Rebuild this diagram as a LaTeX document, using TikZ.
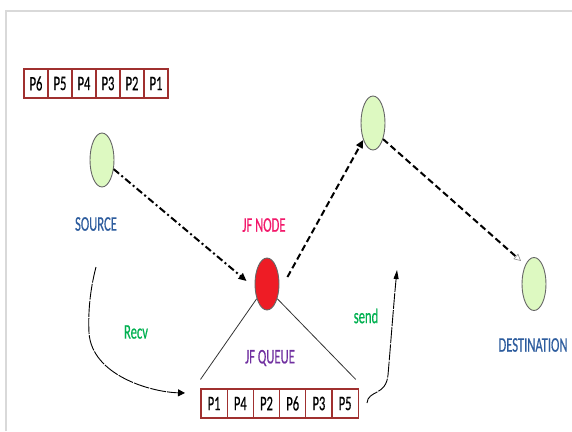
\documentclass[tikz,border=0pt]{standalone}
\usepackage{fontspec}
\setmainfont{Carlito}
\newfontfamily\lblfont{Carlito}[FakeBold=0.7]
\usepackage{graphicx}
\usetikzlibrary{arrows.meta,shapes.geometric,calc}
\definecolor{qred}{HTML}{A0302F}
\definecolor{lblue}{HTML}{2E5D9E}
\definecolor{lpink}{HTML}{F2186A}
\definecolor{lpurple}{HTML}{7030A0}
\definecolor{lgreen}{HTML}{00B050}
\definecolor{nodegreen}{HTML}{DDF9C1}
\definecolor{nodered}{HTML}{EE1C25}
\definecolor{framegray}{HTML}{D9D9D9}
\newcommand\talltext[1]{\scalebox{1}[1.65]{#1}}
\begin{document}
\begin{tikzpicture}[x=1pt,y=-1pt,
  cell/.style={draw=qred,line width=1.1pt,fill=white,minimum width=24pt,minimum height=29pt,inner sep=0pt,font=\lblfont\fontsize{12.5}{14}\selectfont},
  bcell/.style={cell,minimum width=26.2pt},
  ell/.style={ellipse,draw=black!60,line width=0.9pt,minimum width=24pt,minimum height=54pt,inner sep=0pt},
  lbl/.style={font=\lblfont\fontsize{12.6}{14}\selectfont,inner sep=0pt},
  thickdash/.style={line width=2pt,dash pattern=on 6.5pt off 3.5pt},
  dashdot/.style={line width=2pt,dash pattern=on 7pt off 3pt on 2pt off 3pt},
  curve/.style={line width=0.9pt,dash pattern=on 16pt off 1.2pt}]
\useasboundingbox (0,0) rectangle (572,431);
% frame lines
\draw[framegray,line width=2pt] (6,431) -- (6,11) -- (572,11);
% top queue
\foreach \t [count=\i from 0] in {P6,P5,P4,P3,P2,P1}
  \node[cell] (t\i) at (36+24*\i,83.5) {\talltext{\t}};
% bottom queue
\foreach \t [count=\i from 0] in {P1,P4,P2,P6,P3,P5}
  \node[bcell] (b\i) at (214.1+26.2*\i,403.5) {\talltext{\t}};
% nodes
\node[ell,fill=nodegreen] (src) at (102,160) {};
\node[ell,fill=nodered,minimum height=52pt] (jf) at (267,284) {};
\node[ell,fill=nodegreen] (tr) at (373,123) {};
\node[ell,fill=nodegreen,minimum height=53pt] (dst) at (534,284) {};
% labels
\node[lbl,text=lblue] (lsrc) at (96,224) {\talltext{SOURCE}};
\node[lbl,text=lpink] (ljf) at (264,225) {\talltext{JF NODE}};
\node[lbl,text=lblue] (ldst) at (533,345) {\talltext{DESTINATION}};
\node[lbl,text=lpurple] (lq) at (270,358) {\talltext{JF QUEUE}};
\node[lbl,text=lgreen] (lrecv) at (136,332) {\talltext{Recv}};
\node[lbl,text=lgreen] (lsend) at (366,316) {\talltext{send}};
% coordinates
\coordinate (tip1) at ($(jf.west)+(-8,-3)$);
\coordinate (st2) at ($(jf.east)+(8,-7)$);
\coordinate (tip3) at ($(dst)+(-13,-23)$);
\coordinate (qL) at ($(b0.north west)+(0,-9)$);
\coordinate (qR) at ($(b5.north east)+(-3,-9)$);
\coordinate (rs) at (96,267);
\coordinate (re) at (185,393);
\coordinate (ss) at (367,403);
\coordinate (se) at (397,270);
% connectors
\draw[dashdot,-{Triangle[length=8pt,width=7pt]}] (src.-38) -- (tip1);
\draw[thickdash,-{Triangle[length=8pt,width=7pt]}] (st2) -- (tr.240);
\draw[thickdash,-{Triangle[open,length=7pt,width=7pt,line width=0.6pt,color=black!45,fill=white]}] (tr.-58) -- (tip3);
\draw[black!80,line width=0.8pt] (jf.235) -- (qL);
\draw[black!80,line width=0.8pt] (jf.305) -- (qR);
\draw[curve,-{Triangle[length=7pt,width=7pt]}] (rs) .. controls (90,290) and (88,312) .. (89,333)
  .. controls (92,375) and (150,392) .. (re);
\draw[curve,-{Triangle[length=9pt,width=5pt]}] (ss) .. controls (368,390) and (386,396) .. (388,375)
  .. controls (391,340) and (394,300) .. (se);
\end{tikzpicture}
\end{document}
